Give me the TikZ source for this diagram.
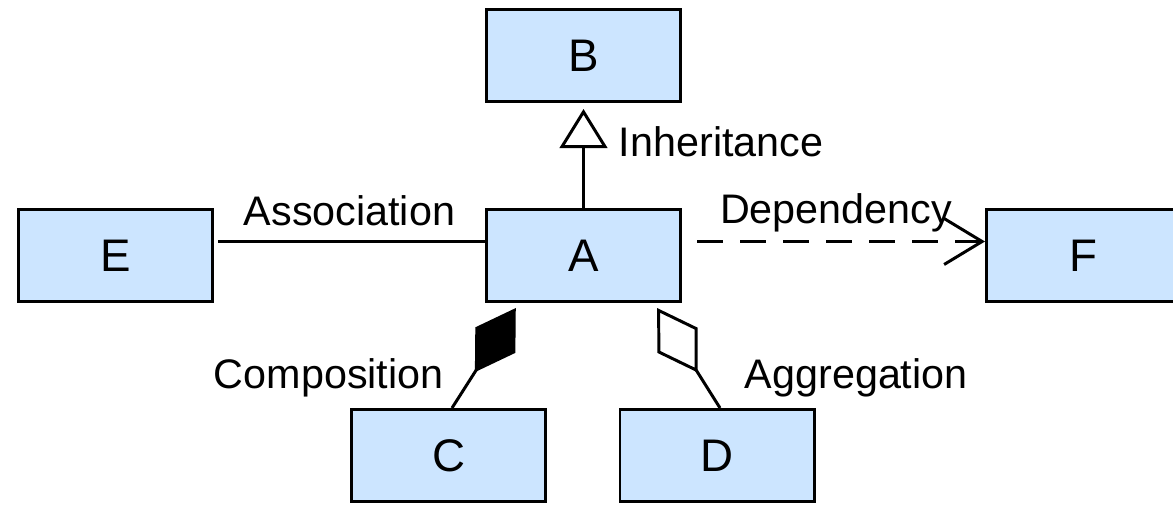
\documentclass[tikz,border=0pt]{standalone}
\usepackage{fontspec}
\setmainfont{Liberation Sans}
\usetikzlibrary{positioning,arrows.meta}
\definecolor{classblue}{RGB}{204,229,255}
\begin{document}
\begin{tikzpicture}[
cls/.style={rectangle,draw,fill=classblue,line width=1.7pt,minimum width=3.88cm,minimum height=1.84cm,font=\fontsize{26}{30}\selectfont},
rel/.style={line width=1.7pt},
lbl/.style={font=\fontsize{23.5}{28}\selectfont,inner sep=0pt}
]
\useasboundingbox (0,0) rectangle (23.46,-10.1);
\node[cls] (A) at (11.67,-5.11) {A};
\node[cls,above=2.1cm of A] (B) {B};
\node[cls,left=5.42cm of A] (E) {E};
\node[cls,right=6.06cm of A] (F) {F};
\node[cls,below=2.1cm of A,xshift=-2.7cm] (C) {C};
\node[cls,below=2.1cm of A,xshift=2.67cm] (D) {D};
\draw[rel,-{Triangle[open,length=0.78cm,width=0.95cm]},shorten >=0.12cm] (A) -- node[lbl,pos=0.63,right=0.68cm] {Inheritance} (B);
\draw[rel,shorten <=0.08cm] ([yshift=0.28cm]E.east) -- node[lbl,anchor=base,yshift=0.32cm] {Association} ([yshift=0.28cm]A.west);
\draw[rel,dash pattern=on 0.52cm off 0.34cm,-{Straight Barb[length=0.76cm,width=0.92cm]},shorten <=0.3cm] ([yshift=0.28cm]A.east) -- node[lbl,anchor=base,yshift=0.36cm,xshift=0.05cm] {Dependency} ([yshift=0.28cm]F.west);
\draw[rel,-{Diamond[length=1.52cm,width=0.95cm]},shorten >=0.12cm] ([xshift=0.07cm]C.north) -- node[lbl,pos=0.29,left=0.53cm] {Composition} ([xshift=-1.29cm]A.south);
\draw[rel,-{Diamond[open,length=1.52cm,width=0.95cm]},shorten >=0.12cm] ([xshift=0.06cm]D.north) -- node[lbl,pos=0.29,right=0.85cm] {Aggregation} ([xshift=1.41cm]A.south);
\end{tikzpicture}
\end{document}
